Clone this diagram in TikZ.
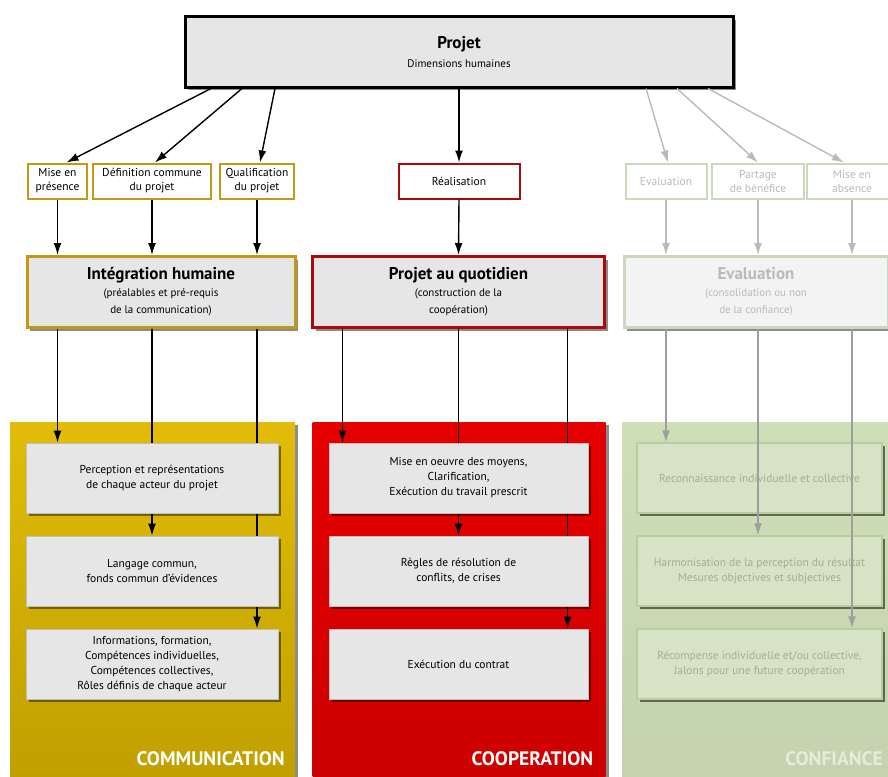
\documentclass[tikz,border=0pt]{standalone}
\usepackage{fontspec}
\setmainfont{PT Sans}
\usetikzlibrary{arrows.meta,shadows}

\definecolor{gris}{RGB}{230,230,230}
\definecolor{grisclaro}{RGB}{243,243,243}
\definecolor{oro}{RGB}{194,152,24}
\definecolor{oroA}{RGB}{226,188,8}
\definecolor{oroB}{RGB}{192,160,0}
\definecolor{rojo}{RGB}{172,10,10}
\definecolor{rojoA}{RGB}{230,0,0}
\definecolor{rojoB}{RGB}{204,0,0}
\definecolor{verde}{RGB}{202,216,188}
\definecolor{verdeA}{RGB}{206,223,183}
\definecolor{verdeB}{RGB}{196,210,176}
\definecolor{verdecaja}{RGB}{214,227,196}
\definecolor{verdeborde}{RGB}{184,206,160}
\definecolor{verdetexto}{RGB}{160,176,144}
\definecolor{apagado}{RGB}{186,186,186}

\pgfdeclarelayer{fondo}
\pgfdeclarelayer{enlaces}
\pgfsetlayers{fondo,enlaces,main}

\begin{document}
\begin{tikzpicture}[x=1pt,y=-1pt,
  sombra/.style={drop shadow={shadow xshift=3pt,shadow yshift=-3pt,fill=black,opacity=.45}},
  etiq/.style={draw=oro,line width=2pt,fill=white,align=center,minimum height=35pt,inner sep=1pt,
    font=\fontsize{11.5}{14}\selectfont},
  bloque/.style={draw=oro,line width=3pt,fill=gris,align=center,minimum height=71pt,sombra,
    font=\fontsize{11}{17}\selectfont},
  panel/.style={minimum height=356pt,sombra,shading angle=40},
  tarea/.style={draw=black!25,line width=.8pt,fill=gris,align=center,minimum height=70pt,sombra,
    font=\fontsize{11.5}{15}\selectfont},
  tareaverde/.style={tarea,draw=verdeborde,line width=1.5pt,fill=verdecaja,text=verdetexto,
    drop shadow={shadow xshift=3pt,shadow yshift=-3pt,fill=black,opacity=.12}},
  etiqpanel/.style={text=white,font=\fontsize{19.5}{22}\selectfont\bfseries},
  flecha/.style={-{Latex[length=12pt,width=8pt]},line width=1.4pt},
  apag/.style={draw=verde,text=apagado},
  ]
  \useasboundingbox (0,0) rectangle (888,776);

  % cabecera
  \node[draw,line width=3pt,fill=gris,minimum width=548pt,minimum height=70pt,sombra,align=center,
    font=\fontsize{11}{19}\selectfont]
    (projet) at (459,52) {{\fontsize{17}{20}\selectfont\bfseries Projet}\\Dimensions humaines};

  % etiquetas
  \node[etiq,minimum width=59pt] (misep) at (57.5,181) {Mise en\\présence};
  \node[etiq,minimum width=118pt] (defc) at (152,181) {Définition commune\\du projet};
  \node[etiq,minimum width=74pt] (qualif) at (257,181) {Qualification\\du projet};
  \node[etiq,draw=rojo,minimum width=121pt] (real) at (459,181) {Réalisation};
  \node[etiq,apag,minimum width=81pt] (evalp) at (666,181) {Evaluation};
  \node[etiq,apag,minimum width=92pt] (partage) at (758,181) {Partage\\de bénéfice};
  \node[etiq,apag,minimum width=90pt] (misea) at (852,181) {Mise en\\absence};

  % bloques
  \node[bloque,minimum width=268pt] (integ) at (161,292)
    {{\fontsize{17}{20}\selectfont\bfseries Intégration humaine}\\(préalables et pré-requis\\de la communication)};
  \node[bloque,draw=rojo,minimum width=292pt] (quot) at (458.5,292)
    {{\fontsize{17}{20}\selectfont\bfseries Projet au quotidien}\\(construction de la\\coopération)};
  \node[bloque,apag,fill=grisclaro,minimum width=264pt] (evalg) at (756,292)
    {{\fontsize{17}{20}\selectfont\bfseries Evaluation}\\(consolidation ou non\\de la confiance)};

  % paneles
  \begin{pgfonlayer}{fondo}
    \node[panel,minimum width=285pt,top color=oroA,middle color=oroA,bottom color=oroB] (comm) at (152.5,600) {};
    \node[panel,minimum width=293pt,top color=rojoA,middle color=rojoA,bottom color=rojoB] (coop) at (459,600) {};
    \node[panel,minimum width=280pt,top color=verdeA,middle color=verdeA,bottom color=verdeB] (conf) at (762,600) {};
  \end{pgfonlayer}
  \node[etiqpanel,anchor=base east] at ([xshift=-7pt,yshift=13pt]comm.south east) {COMMUNICATION};
  \node[etiqpanel,anchor=base east] at ([xshift=-9pt,yshift=13pt]coop.south east) {COOPERATION};
  \node[etiqpanel,text=verdeA!55!white,anchor=base east] at ([xshift=-16pt,yshift=13pt]conf.south east) {CONFIANCE};

  % tareas
  \node[tarea,minimum width=252pt] (com1) at (152,478) {Perception et représentations\\de chaque acteur du projet};
  \node[tarea,minimum width=252pt] (com2) at (152,571) {Langage commun,\\fonds commun d'évidences};
  \node[tarea,minimum width=252pt] (com3) at (152,664) {Informations, formation,\\Compétences individuelles,\\Compétences collectives,\\Rôles définis de chaque acteur};
  \node[tarea,minimum width=259pt] (coo1) at (458.5,478) {Mise en oeuvre des moyens,\\Clarification,\\Exécution du travail prescrit};
  \node[tarea,minimum width=259pt] (coo2) at (458.5,571) {Règles de résolution de\\conflits, de crises};
  \node[tarea,minimum width=259pt] (coo3) at (458.5,664) {Exécution du contrat};
  \node[tareaverde,minimum width=245pt] (con1) at (759.5,478) {Reconnaissance individuelle et collective};
  \node[tareaverde,minimum width=245pt] (con2) at (759.5,571) {Harmonisation de la perception du résultat\\Mesures objectives et subjectives};
  \node[tareaverde,minimum width=245pt] (con3) at (759.5,664) {Récompense individuelle et/ou collective,\\Jalons pour une future coopération};

  % enlaces desde el proyecto
  \draw[flecha] ([xshift=-248pt]projet.south) -- ([xshift=9pt]misep.north);
  \draw[flecha] ([xshift=-217pt]projet.south) -- ([xshift=3pt]defc.north);
  \draw[flecha] ([xshift=-184pt]projet.south) -- ([xshift=3pt]qualif.north);
  \draw[flecha] (projet.south) -- (real.north);
  \draw[flecha,apagado] ([xshift=187pt]projet.south) -- ([xshift=2pt]evalp.north);
  \draw[flecha,apagado] ([xshift=218pt]projet.south) -- (partage.north);
  \draw[flecha,apagado] ([xshift=249pt]projet.south) -- ([xshift=-8pt]misea.north);

  \foreach \e in {misep,defc,qualif}
    \draw[flecha] (\e.south) -- (\e |- integ.north);
  \draw[flecha] (real.south) -- (quot.north);
  \foreach \e in {evalp,partage,misea}
    \draw[flecha,apagado] (\e.south) -- (\e |- evalg.north);

  % enlaces hacia los paneles
  \begin{pgfonlayer}{enlaces}
    \draw[flecha] (misep |- integ.south) -- (misep |- com1.north);
    \draw[flecha] (defc |- integ.south) -- (defc |- com2.north);
    \draw[flecha] (qualif |- integ.south) -- (qualif |- com3.north);
    \coordinate (q1) at ([xshift=-116pt]quot.south);
    \coordinate (q3) at ([xshift=109pt]quot.south);
    \draw[flecha] (q1) -- (q1 |- coo1.north);
    \draw[flecha] (quot.south) -- (quot.south |- coo2.north);
    \draw[flecha] (q3) -- (q3 |- coo3.north);
  \end{pgfonlayer}
  \draw[flecha,black!38] (evalp |- evalg.south) -- (evalp |- con1.north);
  \draw[flecha,black!38] (partage |- evalg.south) -- (partage |- con2.north);
  \draw[flecha,black!38] (misea |- evalg.south) -- (misea |- con3.north);
\end{tikzpicture}
\end{document}
